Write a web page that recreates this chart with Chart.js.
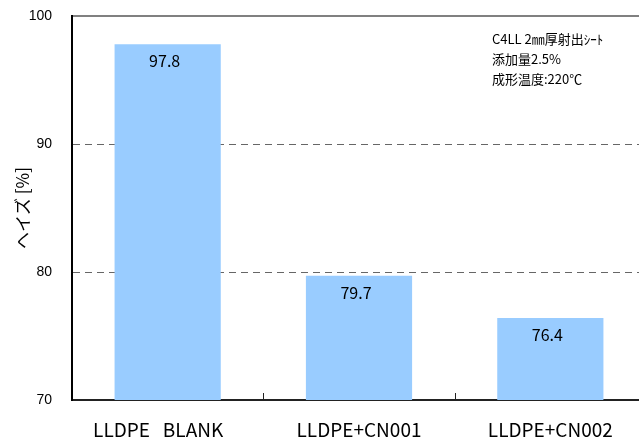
<!DOCTYPE html>
<html><head><meta charset="utf-8">
<script src="https://cdn.jsdelivr.net/npm/chart.js@4/dist/chart.umd.min.js"></script>
<style>html,body{margin:0;padding:0;background:#fff;overflow:hidden;width:639px;height:438px}</style>
</head><body>
<canvas id="c" width="646" height="438" style="display:block"></canvas>
<script>
const categories = ['LLDPE   BLANK\u3000', 'LLDPE+CN001', 'LLDPE+CN002'];
const hazeValues = [97.8, 79.7, 76.4];
const yTicks = [70, 80, 90, 100];
const dashedGridValues = [80, 90];
const noteLines = ['C4LL 2㎜厚射出ｼｰﾄ', '添加量2.5%', '成形温度:220℃'];
const yTitle = 'ヘイズ [%]';

const JP = '"Noto Sans CJK JP", "Noto Sans", sans-serif';

const valueLabels = {
  id: 'valueLabels',
  afterDatasetsDraw(chart) {
    const ctx = chart.ctx;
    const meta = chart.getDatasetMeta(0);
    ctx.save();
    ctx.font = '16px ' + JP;
    ctx.fillStyle = '#000';
    ctx.textAlign = 'center';
    ctx.textBaseline = 'middle';
    meta.data.forEach((bar, i) => {
      ctx.fillText(hazeValues[i].toFixed(1), bar.x - 3, bar.y + 17);
    });
    ctx.restore();
  }
};

const innerTicks = {
  id: 'innerTicks',
  afterDraw(chart) {
    const ctx = chart.ctx;
    const xs = chart.scales.x;
    const bottom = chart.chartArea.bottom;
    ctx.save();
    ctx.strokeStyle = '#222';
    ctx.lineWidth = 1;
    for (let i = 1; i < categories.length; i++) {
      const px = Math.round((xs.getPixelForValue(i - 1) + xs.getPixelForValue(i)) / 2) + 0.5;
      ctx.beginPath();
      ctx.moveTo(px, bottom - 7);
      ctx.lineTo(px, bottom);
      ctx.stroke();
    }
    ctx.restore();
  }
};

const noteText = {
  id: 'noteText',
  afterDraw(chart) {
    const ctx = chart.ctx;
    ctx.save();
    ctx.font = '13px ' + JP;
    ctx.fillStyle = '#000';
    ctx.textAlign = 'left';
    ctx.textBaseline = 'alphabetic';
    noteLines.forEach((t, i) => ctx.fillText(t, 492, 44 + i * 20));
    ctx.restore();
  }
};

new Chart(document.getElementById('c'), {
  type: 'bar',
  data: {
    labels: categories,
    datasets: [{
      data: hazeValues,
      backgroundColor: '#99CCFF',
      borderWidth: 0,
      categoryPercentage: 1,
      barPercentage: 0.555
    }]
  },
  options: {
    responsive: false,
    animation: false,
    layout: { padding: { top: 16, right: 0, left: 0, bottom: 0 } },
    plugins: { legend: { display: false }, tooltip: { enabled: false } },
    scales: {
      x: {
        z: 1,
        grid: { display: false },
        border: { display: true, color: '#222', width: 2 },
        ticks: { color: '#000', font: { family: JP, size: 19 }, padding: 10, maxRotation: 0, autoSkip: false },
        afterFit(s) { s.height = 38; s.paddingLeft = 0; s.paddingRight = 0; }
      },
      x2: {
        type: 'category',
        labels: categories,
        position: 'top',
        grid: { display: false },
        ticks: { display: false },
        border: { display: true, color: '#808080', width: 2 },
        afterFit(s) { s.height = 0; s.paddingLeft = 0; s.paddingRight = 0; }
      },
      y: {
        min: 70, max: 100,
        afterBuildTicks(s) { s.ticks = yTicks.map(v => ({ value: v })); },
        grid: {
          drawTicks: false,
          color: c => (c.tick && dashedGridValues.includes(c.tick.value)) ? '#666' : 'rgba(0,0,0,0)',
          lineWidth: 1
        },
        border: { display: true, color: '#000', width: 2, dash: [7, 5] },
        ticks: { color: '#000', font: { family: '"Liberation Sans", Arial, sans-serif', size: 14 }, padding: 20 },
        title: { display: true, text: yTitle, color: '#000', font: { family: JP, size: 17 }, padding: { top: 12, bottom: 0 } },
        afterFit(s) { s.width = 72; s.paddingTop = 0; s.paddingBottom = 0; }
      }
    }
  },
  plugins: [valueLabels, innerTicks, noteText]
});
</script>
</body></html>
